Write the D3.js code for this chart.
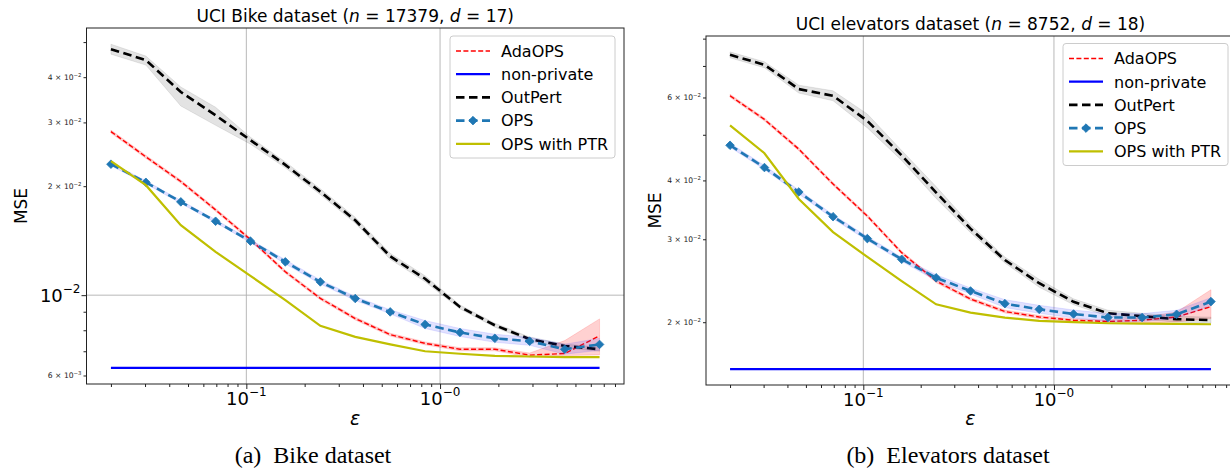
<!DOCTYPE html>
<html><head><meta charset="utf-8">
<script src="https://cdn.jsdelivr.net/npm/d3@7"></script>
<style>
body{margin:0;background:#fff}
svg{display:block}
text{font-family:"DejaVu Sans",sans-serif;fill:#000}
</style>
</head><body>
<svg id="c" width="1230" height="471"></svg>
<script>
// ---------------- data ----------------
const seriesNames = ["AdaOPS", "non-private", "OutPert", "OPS", "OPS with PTR"];
const eps = [0.02, 0.0303, 0.0459, 0.0694, 0.105, 0.159, 0.241, 0.365, 0.553, 0.837, 1.267, 1.918, 2.90, 4.40, 6.66];

// Bike dataset
const bikeAdaOPS   = [0.0283, 0.0241, 0.0206, 0.0172, 0.01425, 0.0116, 0.0098, 0.00862, 0.00778, 0.00736, 0.00709, 0.00709, 0.00683, 0.0069, 0.00772];
const bikeAdaOPSLo = [0.02803, 0.02387, 0.0204, 0.01704, 0.01411, 0.01149, 0.00971, 0.00854, 0.00771, 0.00729, 0.00702, 0.00702, 0.00674, 0.00681, 0.00684];
const bikeAdaOPSHi = [0.02857, 0.02433, 0.0208, 0.01737, 0.01439, 0.01171, 0.00989, 0.0087, 0.00785, 0.00743, 0.00716, 0.00716, 0.00692, 0.00749, 0.0086];
const bikeNonPrivate = [0.0063, 0.0063, 0.0063, 0.0063, 0.0063, 0.0063, 0.0063, 0.0063, 0.0063, 0.0063, 0.0063, 0.0063, 0.0063, 0.0063, 0.0063];
const bikeOutPert   = [0.0478, 0.0446, 0.0364, 0.0314, 0.0268, 0.0229, 0.0193, 0.0161, 0.0128, 0.0111, 0.00928, 0.00826, 0.00756, 0.00724, 0.00709];
const bikeOutPertLo = [0.0463, 0.0432, 0.0333, 0.02946, 0.02613, 0.02247, 0.01894, 0.0158, 0.01256, 0.01089, 0.00916, 0.00816, 0.00746, 0.00715, 0.0070];
const bikeOutPertHi = [0.04934, 0.04575, 0.03758, 0.03304, 0.02731, 0.02334, 0.01967, 0.01641, 0.01305, 0.01131, 0.0094, 0.00837, 0.00766, 0.00733, 0.00718];
const bikeOPS   = [0.0230, 0.0205, 0.0181, 0.0160, 0.0141, 0.01236, 0.01088, 0.00979, 0.00899, 0.0083, 0.00789, 0.0076, 0.00746, 0.00709, 0.00731];
const bikeOPSLo = [0.02278, 0.0203, 0.01793, 0.01585, 0.01397, 0.0122, 0.01074, 0.00967, 0.00888, 0.00809, 0.00769, 0.00741, 0.00727, 0.00687, 0.00704];
const bikeOPSHi = [0.02322, 0.0207, 0.01827, 0.01615, 0.01424, 0.01252, 0.01102, 0.00992, 0.00911, 0.00851, 0.00809, 0.0078, 0.00765, 0.00732, 0.0076];
const bikePTR = [0.02346, 0.02013, 0.01561, 0.01317, 0.01131, 0.00969, 0.00823, 0.00767, 0.00731, 0.0070, 0.00689, 0.0068, 0.00677, 0.00674, 0.00674];

// Elevators dataset
const elevAdaOPS   = [0.0605, 0.0539, 0.0466, 0.0393, 0.0336, 0.0281, 0.02445, 0.0224, 0.02107, 0.02052, 0.02019, 0.02007, 0.02019, 0.02052, 0.02158];
const elevAdaOPSLo = [0.06006, 0.05351, 0.04626, 0.03902, 0.03336, 0.0279, 0.02427, 0.02224, 0.02092, 0.02037, 0.02004, 0.01992, 0.0199, 0.02003, 0.02036];
const elevAdaOPSHi = [0.06094, 0.05429, 0.04694, 0.03959, 0.03385, 0.0283, 0.02463, 0.02256, 0.02122, 0.02067, 0.02034, 0.02022, 0.02049, 0.02102, 0.02344];
const elevNonPrivate = [0.0159, 0.0159, 0.0159, 0.0159, 0.0159, 0.0159, 0.0159, 0.0159, 0.0159, 0.0159, 0.0159, 0.0159, 0.0159, 0.0159, 0.0159];
const elevOutPert   = [0.0739, 0.0704, 0.0625, 0.0605, 0.0535, 0.0452, 0.0377, 0.0316, 0.0271, 0.0242, 0.0221, 0.0209, 0.0206, 0.0203, 0.0202];
const elevOutPertLo = [0.07283, 0.06938, 0.0613, 0.05905, 0.05171, 0.04411, 0.03662, 0.03099, 0.02671, 0.02373, 0.02178, 0.0206, 0.0203, 0.02001, 0.01991];
const elevOutPertHi = [0.07499, 0.07143, 0.06373, 0.06199, 0.05535, 0.04631, 0.03882, 0.03222, 0.0275, 0.02467, 0.02242, 0.02121, 0.0209, 0.0206, 0.0205];
const elevOPS   = [0.0475, 0.0426, 0.0378, 0.0335, 0.0301, 0.0272, 0.02485, 0.0233, 0.0219, 0.0213, 0.02082, 0.02046, 0.02046, 0.02079, 0.02212];
const elevOPSLo = [0.04704, 0.04219, 0.03743, 0.03318, 0.02981, 0.02694, 0.02449, 0.02296, 0.02148, 0.02089, 0.02042, 0.02007, 0.02007, 0.02039, 0.02169];
const elevOPSHi = [0.04797, 0.04302, 0.03817, 0.03383, 0.0304, 0.02747, 0.02522, 0.02364, 0.02233, 0.02172, 0.02123, 0.02086, 0.02086, 0.0212, 0.02255];
const elevPTR = [0.05234, 0.04569, 0.03653, 0.03107, 0.02752, 0.02445, 0.02183, 0.02096, 0.02046, 0.02013, 0.0200, 0.0199, 0.01987, 0.01984, 0.0198];

const minorLabelCoefs = [2, 3, 4, 6];

// ---------------- styles ----------------
const styles = {
  "AdaOPS":       {color: "#ff0000", width: 1.4, dash: "5,2.4", band: "rgba(255,0,0,0.18)"},
  "non-private":  {color: "#0000ff", width: 2.2, dash: null, band: null},
  "OutPert":      {color: "#000000", width: 2.6, dash: "8.5,4.5", band: "rgba(0,0,0,0.11)"},
  "OPS":          {color: "#1f77b4", width: 2.6, dash: "8.5,4.5", band: "rgba(40,40,255,0.14)", marker: true},
  "OPS with PTR": {color: "#bfbf00", width: 2.2, dash: null, band: null}
};

const svg = d3.select("#c");

function logPad(vals, frac) {
  const a = Math.log10(d3.min(vals)), b = Math.log10(d3.max(vals)), m = (b - a) * frac;
  return [Math.pow(10, a - m), Math.pow(10, b + m)];
}
function logTicks(dom) {
  const out = [];
  for (let k = Math.floor(Math.log10(dom[0])) - 1; k <= Math.ceil(Math.log10(dom[1])); k++) {
    for (let m = 1; m <= 9; m++) {
      const v = m * Math.pow(10, k);
      if (v >= dom[0] * 0.9999 && v <= dom[1] * 1.0001) out.push({v, m, k});
    }
  }
  return out;
}
const diamond = r => `M0,${-r}L${r},0L0,${r}L${-r},0Z`;

function panel(p, idx) {
  const g = svg.append("g");
  const x = d3.scaleLog().domain(logPad(eps, 0.05)).range([p.x0, p.x1]);
  const allY = [];
  p.series.forEach(s => { allY.push(...s.v); if (s.lo) allY.push(...s.lo, ...s.hi); });
  const yDom = logPad(allY, 0.05);
  const y = d3.scaleLog().domain(yDom).range([p.y1, p.y0]);

  const xt = logTicks(x.domain()), yt = logTicks(yDom);
  const clipId = "clip" + idx;
  g.append("clipPath").attr("id", clipId).append("rect")
    .attr("x", p.x0).attr("y", p.y0).attr("width", p.x1 - p.x0).attr("height", p.y1 - p.y0);

  // grid
  const grid = g.append("g").attr("stroke", "#b0b0b0").attr("stroke-width", 0.9);
  xt.filter(t => t.m === 1).forEach(t => grid.append("line")
    .attr("x1", x(t.v)).attr("x2", x(t.v)).attr("y1", p.y0).attr("y2", p.y1));
  yt.filter(t => t.m === 1).forEach(t => grid.append("line")
    .attr("y1", y(t.v)).attr("y2", y(t.v)).attr("x1", p.x0).attr("x2", p.x1));

  // series
  const plot = g.append("g").attr("clip-path", `url(#${clipId})`);
  p.series.forEach(s => {
    const st = styles[s.name];
    const pts = eps.map((e, i) => ({e, v: s.v[i], lo: s.lo ? s.lo[i] : null, hi: s.hi ? s.hi[i] : null}));
    if (s.lo && st.band) {
      const area = d3.area().x(d => x(d.e)).y0(d => y(d.lo)).y1(d => y(d.hi));
      plot.append("path").attr("d", area(pts)).attr("fill", st.band)
        .attr("stroke", st.band).attr("stroke-width", 0.8);
    }
    const line = d3.line().x(d => x(d.e)).y(d => y(d.v));
    const path = plot.append("path").attr("d", line(pts)).attr("fill", "none")
      .attr("stroke", st.color).attr("stroke-width", st.width);
    if (st.dash) path.attr("stroke-dasharray", st.dash);
    if (st.marker) {
      plot.selectAll(null).data(pts).enter().append("path")
        .attr("d", diamond(4.3)).attr("transform", d => `translate(${x(d.e)},${y(d.v)})`)
        .attr("fill", st.color).attr("stroke", st.color).attr("stroke-width", 0.8);
    }
  });

  // spines
  g.append("rect").attr("x", p.x0).attr("y", p.y0).attr("width", p.x1 - p.x0).attr("height", p.y1 - p.y0)
    .attr("fill", "none").attr("stroke", "#222").attr("stroke-width", 1);

  // x axis ticks
  const xMaj = xt.filter(t => t.m === 1).map(t => t.v), xMin = xt.filter(t => t.m !== 1).map(t => t.v);
  const axB = g.append("g").attr("transform", `translate(0,${p.y1})`);
  axB.append("g").call(d3.axisBottom(x).tickValues(xMaj).tickSize(5).tickFormat(""));
  axB.append("g").call(d3.axisBottom(x).tickValues(xMin).tickSize(3).tickFormat(""));
  axB.selectAll(".domain").remove();
  axB.selectAll(".tick line").attr("stroke", "#222");
  xt.filter(t => t.m === 1).forEach(t => {
    const tx = g.append("text").attr("x", x(t.v)).attr("y", p.y1 + 21).attr("text-anchor", "middle")
      .attr("font-size", 18);
    tx.append("tspan").text("10");
    tx.append("tspan").attr("font-size", 12).attr("dy", -9).text("\u2212" + Math.abs(t.k));
  });

  // y axis ticks
  const yMaj = yt.filter(t => t.m === 1).map(t => t.v), yMin = yt.filter(t => t.m !== 1).map(t => t.v);
  const axL = g.append("g").attr("transform", `translate(${p.x0},0)`);
  axL.append("g").call(d3.axisLeft(y).tickValues(yMaj).tickSize(5).tickFormat(""));
  axL.append("g").call(d3.axisLeft(y).tickValues(yMin).tickSize(3).tickFormat(""));
  axL.selectAll(".domain").remove();
  axL.selectAll(".tick line").attr("stroke", "#222");
  yt.forEach(t => {
    const sup = "\u2212" + Math.abs(t.k);
    if (t.m === 1) {
      const tx = g.append("text").attr("x", p.x0 - 6).attr("y", y(t.v) + 7).attr("text-anchor", "end")
        .attr("font-size", 18);
      tx.append("tspan").text("10");
      tx.append("tspan").attr("font-size", 12).attr("dy", -9).text(sup);
    } else if (minorLabelCoefs.includes(t.m)) {
      const tx = g.append("text").attr("x", p.x0 - 5).attr("y", y(t.v) + 2.8).attr("text-anchor", "end")
        .attr("font-size", 7.6).style("fill", "#222");
      tx.append("tspan").text(t.m + " \u00d7 10");
      tx.append("tspan").attr("font-size", 5.4).attr("dy", -3.2).text(sup);
    }
  });

  // title
  const tt = g.append("text").attr("x", (p.x0 + p.x1) / 2).attr("y", p.titleY)
    .attr("text-anchor", "middle").attr("font-size", 17);
  tt.append("tspan").text(p.title[0] + " (");
  tt.append("tspan").attr("font-style", "italic").text("n");
  tt.append("tspan").text(" = " + p.title[1] + ", ");
  tt.append("tspan").attr("font-style", "italic").text("d");
  tt.append("tspan").text(" = " + p.title[2] + ")");

  // axis labels
  g.append("text").attr("transform", `translate(${p.yLabX},${(p.y0 + p.y1) / 2}) rotate(-90)`)
    .attr("text-anchor", "middle").attr("dominant-baseline", "central").attr("font-size", 17).text("MSE");
  g.append("text").attr("x", (p.x0 + p.x1) / 2).attr("y", 425).attr("text-anchor", "middle")
    .attr("font-size", 19).attr("font-style", "italic").text("\u03b5");

  // legend
  const L = g.append("g").attr("transform", `translate(${p.legX},${p.legY})`);
  L.append("rect").attr("width", 165).attr("height", 122).attr("rx", 3)
    .attr("fill", "rgba(255,255,255,0.85)").attr("stroke", "#cccccc").attr("stroke-width", 1);
  seriesNames.forEach((n, i) => {
    const st = styles[n], yy = 15 + i * 23.2;
    const ln = L.append("line").attr("x1", 6).attr("x2", 40).attr("y1", yy).attr("y2", yy)
      .attr("stroke", st.color).attr("stroke-width", st.width);
    if (st.dash) ln.attr("stroke-dasharray", st.dash);
    if (st.marker) L.append("path").attr("d", diamond(4.3)).attr("transform", `translate(23,${yy})`)
      .attr("fill", st.color).attr("stroke", st.color).attr("stroke-width", 0.8);
    L.append("text").attr("x", 51).attr("y", yy + 5.8).attr("font-size", 16).text(n);
  });

  // caption
  const cap = svg.append("text").attr("x", p.capX).attr("y", 463).attr("text-anchor", "middle")
    .attr("font-size", 24).style("font-family", "'Liberation Serif','Times New Roman',serif");
  cap.append("tspan").text(p.caption[0]);
  cap.append("tspan").attr("dx", 12).text(p.caption[1]);
}

panel({
  x0: 86.5, x1: 624, y0: 28, y1: 384, titleY: 22, yLabX: 21, legX: 450, legY: 36, capX: 313,
  title: ["UCI Bike dataset", "17379", "17"], caption: ["(a)", "Bike dataset"],
  series: [
    {name: "AdaOPS", v: bikeAdaOPS, lo: bikeAdaOPSLo, hi: bikeAdaOPSHi},
    {name: "non-private", v: bikeNonPrivate},
    {name: "OutPert", v: bikeOutPert, lo: bikeOutPertLo, hi: bikeOutPertHi},
    {name: "OPS", v: bikeOPS, lo: bikeOPSLo, hi: bikeOPSHi},
    {name: "OPS with PTR", v: bikePTR}
  ]
}, 0);

panel({
  x0: 706, x1: 1235, y0: 36, y1: 385, titleY: 30, yLabX: 655, legX: 1063, legY: 43.5, capX: 948,
  title: ["UCI elevators dataset", "8752", "18"], caption: ["(b)", "Elevators dataset"],
  series: [
    {name: "AdaOPS", v: elevAdaOPS, lo: elevAdaOPSLo, hi: elevAdaOPSHi},
    {name: "non-private", v: elevNonPrivate},
    {name: "OutPert", v: elevOutPert, lo: elevOutPertLo, hi: elevOutPertHi},
    {name: "OPS", v: elevOPS, lo: elevOPSLo, hi: elevOPSHi},
    {name: "OPS with PTR", v: elevPTR}
  ]
}, 1);
</script>
</body></html>
